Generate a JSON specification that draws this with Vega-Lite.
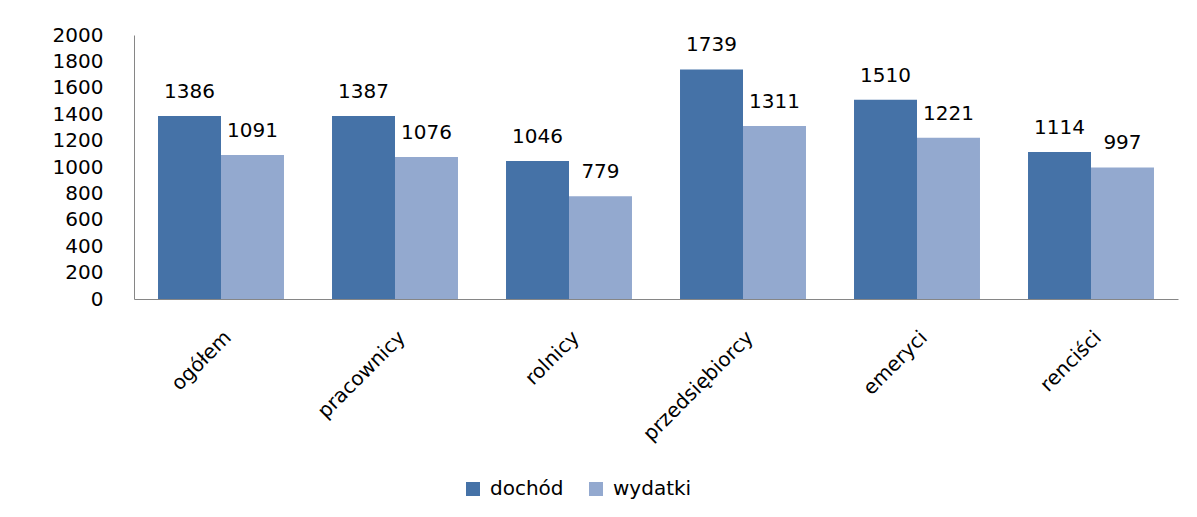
{
  "$schema": "https://vega.github.io/schema/vega-lite/v6.json",
  "autosize": "none",
  "width": 1044,
  "height": 264,
  "padding": {"left": 134, "top": 35, "right": 19, "bottom": 218},
  "background": "white",
  "config": {"view": {"stroke": null}, "font": "DejaVu Sans"},
  "data": {
    "values": [
      {"grupa": "ogółem", "seria": "dochód", "wartosc": 1386},
      {"grupa": "ogółem", "seria": "wydatki", "wartosc": 1091},
      {"grupa": "pracownicy", "seria": "dochód", "wartosc": 1387},
      {"grupa": "pracownicy", "seria": "wydatki", "wartosc": 1076},
      {"grupa": "rolnicy", "seria": "dochód", "wartosc": 1046},
      {"grupa": "rolnicy", "seria": "wydatki", "wartosc": 779},
      {"grupa": "przedsiębiorcy", "seria": "dochód", "wartosc": 1739},
      {"grupa": "przedsiębiorcy", "seria": "wydatki", "wartosc": 1311},
      {"grupa": "emeryci", "seria": "dochód", "wartosc": 1510},
      {"grupa": "emeryci", "seria": "wydatki", "wartosc": 1221},
      {"grupa": "renciści", "seria": "dochód", "wartosc": 1114},
      {"grupa": "renciści", "seria": "wydatki", "wartosc": 997}
    ]
  },
  "encoding": {
    "x": {
      "field": "grupa", "type": "nominal", "sort": null,
      "scale": {"paddingInner": 0.276, "paddingOuter": 0.138},
      "axis": {"title": null, "labelAngle": -45, "ticks": false, "domainColor": "#868686", "labelFontSize": 20, "labelPadding": 28, "labelColor": "#000000", "labelFont": "DejaVu Sans"}
    },
    "xOffset": {"field": "seria", "type": "nominal", "sort": ["dochód", "wydatki"]},
    "y": {
      "field": "wartosc", "type": "quantitative",
      "scale": {"domain": [0, 2000], "nice": false},
      "axis": {"values": [0, 200, 400, 600, 800, 1000, 1200, 1400, 1600, 1800, 2000], "format": "d", "grid": false, "ticks": false, "title": null, "labelPadding": 31, "labelFontSize": 20, "labelColor": "#000000", "domainColor": "#868686", "labelFont": "DejaVu Sans"}
    }
  },
  "layer": [
    {
      "mark": {"type": "bar"},
      "encoding": {
        "color": {
          "field": "seria", "type": "nominal",
          "scale": {"domain": ["dochód", "wydatki"], "range": ["#4572A7", "#93A9CF"]},
          "legend": {"title": null, "orient": "none", "direction": "horizontal", "legendX": 329, "legendY": 444, "symbolType": "square", "symbolSize": 196, "symbolStrokeWidth": 0, "labelFontSize": 20, "labelColor": "#000000", "labelOffset": 7, "columnPadding": 22, "labelFont": "DejaVu Sans"}
        }
      }
    },
    {
      "mark": {"type": "text", "baseline": "alphabetic", "dy": -18, "fontSize": 20, "color": "#000000"},
      "encoding": {"text": {"field": "wartosc", "type": "quantitative", "format": "d"}}
    }
  ]
}
